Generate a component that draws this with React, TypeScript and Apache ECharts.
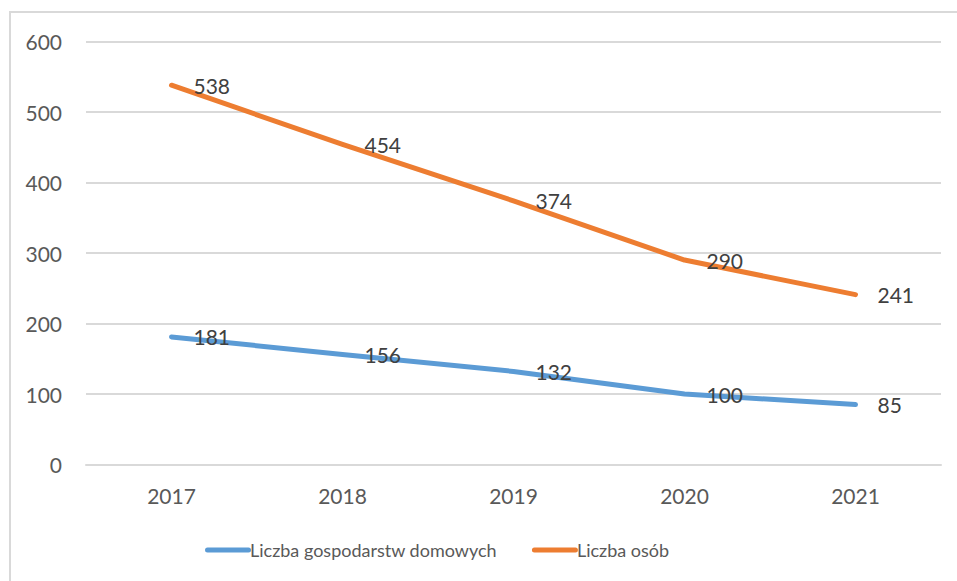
import React, { useEffect, useRef } from "react";
import * as echarts from "echarts";

const years = ["2017", "2018", "2019", "2020", "2021"];
const households = [181, 156, 132, 100, 85];
const persons = [538, 454, 374, 290, 241];
const seriesNames = ["Liczba gospodarstw domowych", "Liczba osób"];
const yTicks = { min: 0, max: 600, interval: 100 };

const FONT = "Lato, 'Open Sans', sans-serif";
const LEGEND_ICON =
  "path://M2.5,0 L43.5,0 A2.5,2.5 0 0 1 43.5,5 L2.5,5 A2.5,2.5 0 0 1 2.5,0 Z";

export default function App() {
  const ref = useRef<HTMLDivElement>(null);
  useEffect(() => {
    const chart = echarts.init(ref.current!, null, { renderer: "svg" });
    const label = {
      show: true,
      position: "right",
      distance: 22,
      color: "#404040",
      fontSize: 21,
      fontFamily: FONT,
    };
    chart.setOption({
      animation: false,
      backgroundColor: "#ffffff",
      graphic: [
        {
          type: "rect",
          shape: { x: 10, y: 12, width: 1000, height: 700 },
          style: { fill: "none", stroke: "#d9d9d9", lineWidth: 2 },
          silent: true,
        },
      ],
      grid: { left: 86, right: 16, top: 41.5, bottom: 116.5, containLabel: false },
      legend: {
        bottom: 17,
        left: 200,
        itemWidth: 46,
        itemHeight: 5,
        itemGap: 35,
        icon: LEGEND_ICON,
        textStyle: { color: "#595959", fontSize: 18, fontFamily: FONT, padding: [0, 0, 0, -6] },
        data: seriesNames,
      },
      xAxis: {
        type: "category",
        data: years,
        boundaryGap: true,
        axisLine: { show: true, lineStyle: { color: "#d9d9d9", width: 2 } },
        axisTick: { show: false },
        axisLabel: { color: "#595959", fontSize: 21, fontFamily: FONT, margin: 20 },
      },
      yAxis: {
        type: "value",
        min: yTicks.min,
        max: yTicks.max,
        interval: yTicks.interval,
        axisLine: { show: false },
        axisTick: { show: false },
        splitLine: { lineStyle: { color: "#d9d9d9", width: 2 } },
        axisLabel: { color: "#595959", fontSize: 21, fontFamily: FONT, margin: 24 },
      },
      series: [
        {
          name: seriesNames[0],
          type: "line",
          data: households,
          symbol: "circle",
          symbolSize: 0,
          showSymbol: true,
          color: "#5b9bd5",
          lineStyle: { width: 5, color: "#5b9bd5", cap: "round", join: "round" },
          label,
        },
        {
          name: seriesNames[1],
          type: "line",
          data: persons,
          symbol: "circle",
          symbolSize: 0,
          showSymbol: true,
          color: "#ed7d31",
          lineStyle: { width: 5, color: "#ed7d31", cap: "round", join: "round" },
          label,
        },
      ],
    });
    return () => chart.dispose();
  }, []);
  return (
    <div
      ref={ref}
      style={{ position: "absolute", left: 0, top: 0, width: 957, height: 581 }}
    />
  );
}
